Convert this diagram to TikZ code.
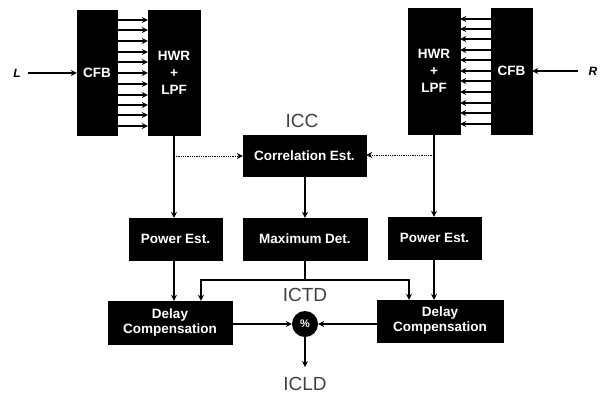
\documentclass[tikz,border=0pt]{standalone}
\usepackage{fontspec}
\setmainfont{Liberation Sans}
\usetikzlibrary{arrows.meta,calc}
\tikzset{
  x=1pt,y=-1pt,
  blk/.style={fill=black,draw=black,inner sep=0pt,text=white,align=center,font=\fontsize{13.5}{15}\selectfont\bfseries},
  lab/.style={inner sep=1pt,font=\fontsize{19}{21}\selectfont,text=black!75},
  io/.style={inner ysep=1pt,font=\fontsize{12}{14}\selectfont\bfseries\itshape},
  conn/.style={line width=1.2pt,-{Stealth[length=6pt,width=6pt]}},
  bus/.style={line width=1.2pt},
  branch/.style={line width=.8pt,densely dotted,-{Stealth[length=6pt,width=6pt]}},
}
\newcommand{\bx}[6]{\node[blk,minimum width=#3-#2,minimum height=#5-#4] (#1) at ({(#2+#3)/2},{(#4+#5)/2}) {#6};}
\begin{document}
\begin{tikzpicture}
\useasboundingbox (0,0) rectangle (602,394);
\bx{cfbL}{77}{117}{10}{135}{CFB}
\bx{hwrL}{148}{200}{10}{135}{HWR\\[2pt]+\\[2pt]LPF}
\bx{hwrR}{408}{460}{8}{134}{HWR\\[2pt]+\\[2pt]LPF}
\bx{cfbR}{491}{532}{8}{134}{CFB}
\bx{corr}{243}{366}{135}{176}{Correlation Est.}
\bx{powL}{129}{222}{218}{260}{Power Est.}
\bx{maxd}{243}{367}{218}{260}{Maximum Det.}
\bx{powR}{388}{481}{217}{259}{Power Est.}
\bx{delL}{108}{232}{301}{344}{Delay\\Compensation}
\bx{delR}{377}{503}{300}{342}{Delay\\Compensation}
\node[circle,fill=black,text=white,inner sep=0pt,minimum size=26pt,font=\fontsize{11}{13}\selectfont\bfseries] (div) at (305,324) {\%};
\node[lab] (icc) at (302,121) {ICC};
\node[lab] (ictd) at (305,295) {ICTD};
\node[lab] (icld) at (305,384) {ICLD};
\node[io,inner xsep=7pt] (L) at (17,73) {L};
\node[io,inner xsep=10pt] (R) at (593,71) {R};
\foreach \y in {20,30,41,52,62,73,84,95,105,115,126}{
  \draw[conn] (cfbL.east |- 0,\y) -- (hwrL.west |- 0,\y);
}
\foreach \y in {19,29,39,50,60,71,81,92,103,113,124}{
  \draw[conn] (cfbR.west |- 0,\y) -- (hwrR.east |- 0,\y);
}
\draw[conn] (L) -- (cfbL.west |- L);
\draw[conn] (R) -- (cfbR.east |- R);
\coordinate (tapL) at (174,156);
\coordinate (tapR) at (434,155);
\coordinate (jn) at (305,280);
\coordinate (jl) at (201,280);
\coordinate (jr) at (409,280);
\draw[conn] (tapL |- hwrL.south) -- (tapL |- powL.north);
\draw[conn] (tapR |- hwrR.south) -- (tapR |- powR.north);
\draw[branch] (tapL) -- (tapL -| corr.west);
\draw[branch] (tapR) -- (tapR -| corr.east);
\draw[conn] (maxd.north |- corr.south) -- (maxd.north);
\draw[conn] (tapL |- powL.south) -- (tapL |- delL.north);
\draw[conn] (tapR |- powR.south) -- (tapR |- delR.north);
\draw[bus] (maxd.south) -- (jn);
\draw[conn] (jn) -- (jl) -- (jl |- delL.north);
\draw[conn] (jn) -- (jr) -- (jr |- delR.north);
\draw[conn] (delL.east |- div) -- (div.west);
\draw[conn] (delR.west |- div) -- (div.east);
\draw[conn,shorten >=9pt] (div.south) -- (icld.north);
\end{tikzpicture}
\end{document}
